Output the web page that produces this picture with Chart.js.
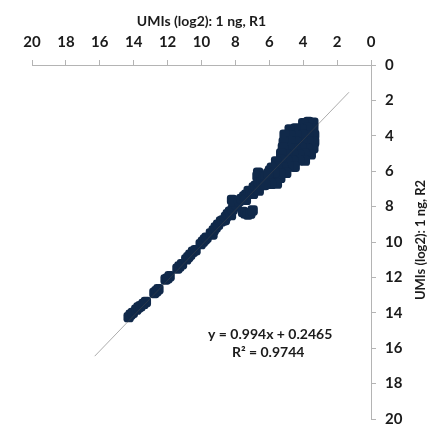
<!DOCTYPE html>
<html>
<head>
<meta charset="utf-8">
<script src="https://cdn.jsdelivr.net/npm/chart.js@4.4.1/dist/chart.umd.min.js"></script>
<style>
    html, body { margin: 0; padding: 0; background: #fff; }
    #wrap { width: 438px; height: 426px; }
</style>
</head>
<body>
<div id="wrap"><canvas id="umi-chart" width="438" height="426"></canvas></div>
<script>
// UMIs (log2) por gene: réplica 1 (x) e réplica 2 (y), 1 ng
const umiR1 = [
    14.30, 14.18, 14.05, 13.85, 13.72, 13.60, 13.42, 13.28,
    12.78, 12.66, 12.54, 12.12, 12.00, 11.88, 11.42, 11.30, 11.15,
    10.90, 10.78, 10.66, 10.50, 10.35, 10.05, 9.92, 9.80, 9.70,
    9.45, 9.35, 9.28, 9.16, 9.02, 8.85, 8.74, 8.62, 8.56, 8.45,
    8.32, 8.26, 8.16, 8.04, 7.92, 8.20, 8.08,
    7.55, 7.42, 7.26, 7.12, 6.98,
    7.78, 7.64, 7.48, 7.36, 7.38, 7.22, 7.08, 6.96, 6.92, 6.80, 6.62,
    6.66, 6.70, 6.62, 6.48, 6.36, 6.30, 6.22, 6.06, 5.96, 6.00,
    5.70, 5.50, 5.35, 5.40, 5.70, 5.55, 5.90, 6.25,
    3.40, 3.70, 4.00,
    3.40, 3.75, 4.10, 4.45, 4.80,
    3.35, 3.70, 4.05, 4.40, 4.75, 5.10,
    3.35, 3.70, 4.05, 4.40, 4.75, 5.15,
    3.40, 3.75, 4.10, 4.45, 4.80, 5.20,
    3.55, 3.90, 4.25, 4.60, 4.95, 5.30,
    3.90, 4.25, 4.60, 4.95, 5.30, 5.60,
    4.50, 4.85, 5.20, 5.55, 5.85,
    5.00, 5.35, 5.70, 6.05
];
const umiR2 = [
    14.25, 14.10, 14.00, 13.82, 13.70, 13.62, 13.50, 13.38,
    12.88, 12.78, 12.66, 12.12, 12.05, 11.93, 11.50, 11.38, 11.25,
    10.98, 10.85, 10.72, 10.55, 10.46, 10.12, 9.98, 9.86, 9.76,
    9.52, 9.58, 9.34, 9.18, 9.02, 8.84, 8.78, 8.76, 8.58, 8.42,
    8.28, 8.48, 8.16, 7.98, 7.90, 7.62, 7.72,
    8.30, 8.38, 8.45, 8.40, 8.22,
    7.68, 7.56, 7.42, 7.32, 7.62, 7.12, 7.16, 7.28, 6.92, 6.82, 7.10,
    6.08, 6.28, 6.62, 6.62, 6.42, 6.78, 6.30, 6.12, 5.96, 6.50,
    6.30, 6.42, 6.38, 6.15, 6.05, 6.70, 6.72, 6.75,
    3.25, 3.22, 3.28,
    3.60, 3.55, 3.62, 3.58, 3.64,
    3.95, 3.98, 3.92, 3.96, 4.00, 3.94,
    4.35, 4.32, 4.38, 4.34, 4.30, 4.36,
    4.70, 4.72, 4.68, 4.74, 4.70, 4.66,
    5.05, 5.02, 5.08, 5.04, 5.06, 5.00,
    5.40, 5.38, 5.42, 5.40, 5.36, 5.44,
    5.75, 5.72, 5.78, 5.74, 5.80,
    6.10, 6.12, 6.08, 6.14
];

// reta de ajuste
const fitLineX = [16.3, 1.3];
const fitLineY = [16.45, 1.54];

const axisTicks = [0, 2, 4, 6, 8, 10, 12, 14, 16, 18, 20];
const titleX = 'UMIs (log2): 1 ng, R1';
const titleY = 'UMIs (log2): 1 ng, R2';
const fitText = ['y = 0.994x + 0.2465', 'R² = 0.9744'];
const fitTextAt = { x: 5.95, y: 15.25 };

const fontFamily = 'Lato, "Open Sans", sans-serif';
const textColor = '#1b1b1b';
const axisColor = '#b4b4b4';
const pointColor = '#10294a';

// Títulos e texto da regressão desenhados à mão
const textPlugin = {
    id: 'textPlugin',
    afterDraw(chart) {
        const ctx = chart.ctx;
        const area = chart.chartArea;
        const xs = chart.scales.x;
        const ys = chart.scales.y;
        ctx.save();
        ctx.fillStyle = textColor;
        ctx.textAlign = 'center';
        ctx.textBaseline = 'middle';

        ctx.font = `bold 14px ${fontFamily}`;
        ctx.fillText(titleX, (area.left + area.right) / 2, 21);

        ctx.save();
        ctx.translate(421, 240);
        ctx.rotate(-Math.PI / 2);
        ctx.font = `bold 13px ${fontFamily}`;
        ctx.fillText(titleY, 0, 0);
        ctx.restore();

        const cx = xs.getPixelForValue(fitTextAt.x);
        const cy = ys.getPixelForValue(fitTextAt.y);
        ctx.font = `bold 14px ${fontFamily}`;
        ctx.fillText(fitText[0], cx, cy);
        ctx.fillText(fitText[1], cx - 2, cy + 18);
        ctx.restore();
    }
};

function setTicks(scale) {
    scale.ticks = axisTicks.map(v => ({ value: v }));
}

const ctx = document.getElementById('umi-chart').getContext('2d');
const umiChart = new Chart(ctx, {
    type: 'scatter',
    data: {
        datasets: [
            {
                type: 'line',
                label: 'ajuste',
                data: fitLineX.map((x, i) => ({ x: x, y: fitLineY[i] })),
                borderColor: 'rgba(70, 70, 70, 0.45)',
                borderWidth: 1,
                pointRadius: 0,
                fill: false,
                order: 0
            },
            {
                label: 'genes',
                data: umiR1.map((x, i) => ({ x: x, y: umiR2[i] })),
                backgroundColor: pointColor,
                borderWidth: 0,
                pointStyle: 'rectRounded',
                pointRadius: 6,
                order: 1
            }
        ]
    },
    options: {
        responsive: false,
        animation: false,
        devicePixelRatio: 1,
        layout: {
            padding: { left: 32, top: 0, right: 0, bottom: 7 }
        },
        plugins: {
            legend: { display: false },
            tooltip: { enabled: false },
            title: { display: false }
        },
        scales: {
            x: {
                type: 'linear',
                position: 'top',
                min: 0,
                max: 20,
                reverse: true,
                afterBuildTicks: setTicks,
                afterFit(scale) {
                    scale.height = 65;
                    scale.paddingLeft = 0;
                    scale.paddingRight = 0;
                },
                ticks: {
                    color: textColor,
                    font: { family: fontFamily, size: 15, weight: 'bold' },
                    padding: 9,
                    maxRotation: 0
                },
                grid: {
                    drawOnChartArea: false,
                    tickLength: 5,
                    color: axisColor
                },
                border: { color: axisColor, width: 1 }
            },
            y: {
                type: 'linear',
                position: 'right',
                min: 0,
                max: 20,
                reverse: true,
                afterBuildTicks: setTicks,
                afterFit(scale) {
                    scale.width = 67;
                    scale.paddingTop = 0;
                    scale.paddingBottom = 0;
                },
                ticks: {
                    color: textColor,
                    font: { family: fontFamily, size: 15, weight: 'bold' },
                    padding: 9
                },
                grid: {
                    drawOnChartArea: false,
                    tickLength: 5,
                    color: axisColor
                },
                border: { color: axisColor, width: 1 }
            }
        }
    },
    plugins: [textPlugin]
});
</script>
</body>
</html>
